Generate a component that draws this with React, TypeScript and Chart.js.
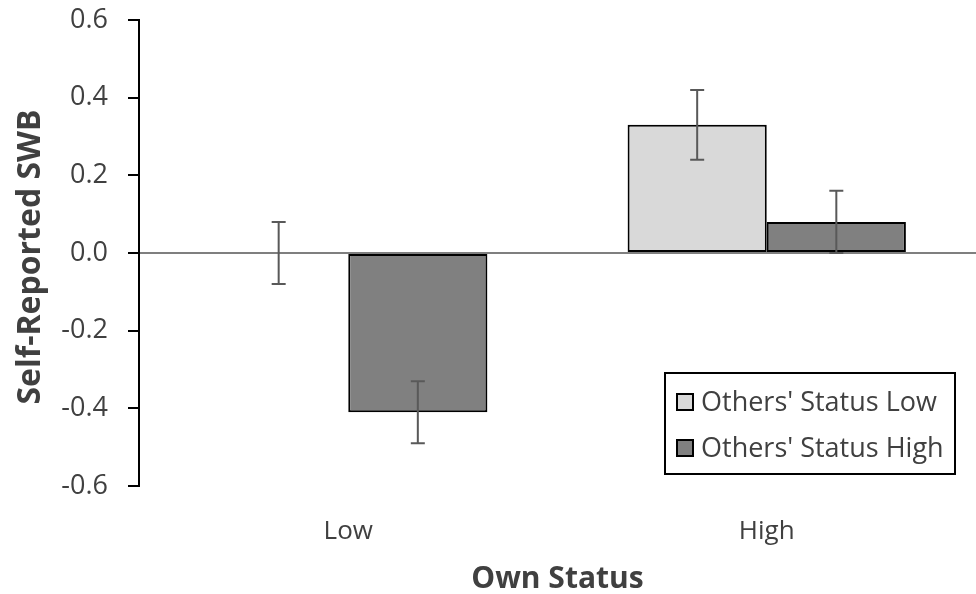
import React, { useEffect, useRef } from "react";
import { Chart, registerables } from "chart.js";

Chart.register(...registerables);

const categories = ["Low", "High"];
const seriesNames = ["Others' Status Low", "Others' Status High"];
const othersLow = [0.0, 0.33];
const othersLowErr = [0.08, 0.09];
const othersHigh = [-0.41, 0.08];
const othersHighErr = [0.08, 0.08];
const yTicks = [-0.6, -0.4, -0.2, 0.0, 0.2, 0.4, 0.6];
const xTitle = "Own Status";
const yTitle = "Self-Reported SWB";

const FONT = "'Open Sans', 'Noto Sans', sans-serif";
const TEXT = "#404040";

const errorBarPlugin = {
  id: "errorBars",
  afterDatasetsDraw(chart: any) {
    const ctx = chart.ctx;
    const y = chart.scales.y;
    chart.data.datasets.forEach((ds: any, di: number) => {
      const meta = chart.getDatasetMeta(di);
      meta.data.forEach((bar: any, i: number) => {
        const v = ds.data[i];
        const e = ds.errors[i];
        const top = y.getPixelForValue(v + e);
        const bot = y.getPixelForValue(v - e);
        const x = bar.x;
        ctx.save();
        ctx.strokeStyle = "#595959";
        ctx.lineWidth = 2;
        ctx.beginPath();
        ctx.moveTo(x, top);
        ctx.lineTo(x, bot);
        ctx.moveTo(x - 7, top);
        ctx.lineTo(x + 7, top);
        ctx.moveTo(x - 7, bot);
        ctx.lineTo(x + 7, bot);
        ctx.stroke();
        ctx.restore();
      });
    });
  },
};

const titlesLegendPlugin = {
  id: "titlesLegend",
  afterDraw(chart: any) {
    const ctx = chart.ctx;
    const area = chart.chartArea;
    ctx.save();
    ctx.fillStyle = TEXT;
    ctx.font = `bold 30px ${FONT}`;
    ctx.textAlign = "center";
    ctx.textBaseline = "middle";
    ctx.fillText(xTitle, (area.left + area.right) / 2, 579);
    ctx.font = `bold 32px ${FONT}`;
    ctx.translate(31, 257);
    ctx.rotate(-Math.PI / 2);
    ctx.fillText(yTitle, 0, 0);
    ctx.restore();

    // legend box
    ctx.save();
    const bx = 665, by = 373, bw = 290, bh = 101;
    ctx.fillStyle = "#ffffff";
    ctx.fillRect(bx, by, bw, bh);
    ctx.strokeStyle = "#000";
    ctx.lineWidth = 2;
    ctx.strokeRect(bx, by, bw, bh);
    ctx.font = `27px ${FONT}`;
    ctx.textAlign = "left";
    ctx.textBaseline = "middle";
    const rows = [402, 448];
    chart.data.datasets.forEach((ds: any, i: number) => {
      const cy = rows[i];
      ctx.fillStyle = ds.backgroundColor;
      ctx.fillRect(677, cy - 8, 16, 16);
      ctx.strokeStyle = "#000";
      ctx.lineWidth = 2;
      ctx.strokeRect(677, cy - 8, 16, 16);
      ctx.fillStyle = TEXT;
      ctx.fillText(ds.label, 701, cy + 1);
    });
    ctx.restore();
  },
};

export default function App() {
  const ref = useRef<HTMLCanvasElement | null>(null);
  useEffect(() => {
    if (!ref.current) return;
    const chart = new Chart(ref.current, {
      type: "bar",
      data: {
        labels: categories,
        datasets: [
          {
            label: seriesNames[0],
            data: othersLow,
            errors: othersLowErr,
            backgroundColor: "#d9d9d9",
            borderColor: "#000",
            borderWidth: 2,
            borderSkipped: false,
            categoryPercentage: 0.665,
            barPercentage: 1,
          } as any,
          {
            label: seriesNames[1],
            data: othersHigh,
            errors: othersHighErr,
            backgroundColor: "#808080",
            borderColor: "#000",
            borderWidth: 2,
            borderSkipped: false,
            categoryPercentage: 0.665,
            barPercentage: 1,
          } as any,
        ],
      },
      options: {
        animation: false,
        responsive: false,
        maintainAspectRatio: false,
        layout: { padding: 0 },
        plugins: { legend: { display: false }, tooltip: { enabled: false } },
        scales: {
          x: {
            grid: { display: false },
            border: { display: false },
            ticks: { color: TEXT, font: { family: FONT, size: 26 }, padding: 22 },
            afterFit: (s: any) => { s.height = 108; },
          },
          y: {
            min: -0.6,
            max: 0.6,
            afterBuildTicks: (s: any) => { s.ticks = yTicks.map((v) => ({ value: v })); },
            ticks: {
              color: TEXT,
              font: { family: FONT, size: 27 },
              padding: 20,
              callback: (v: any) => Number(v).toFixed(1),
            },
            grid: {
              drawOnChartArea: true,
              color: (c: any) => (c.tick && Math.abs(c.tick.value) < 1e-9 ? "#7f7f7f" : "rgba(0,0,0,0)"),
              lineWidth: 2,
              tickLength: 11,
              tickColor: "#000",
              tickWidth: 2,
            },
            border: { display: true, color: "#000", width: 2 },
            afterFit: (s: any) => {
              s.width = 139;
              s.paddingTop = 20;
              s.paddingBottom = 0;
            },
          },
        },
      },
      plugins: [errorBarPlugin, titlesLegendPlugin],
    });
    return () => chart.destroy();
  }, []);
  return (
    <div style={{ position: "fixed", left: 0, top: 0, width: 976, height: 594, background: "#fff" }}>
      <canvas ref={ref} width={976} height={594} style={{ display: "block" }} />
    </div>
  );
}
